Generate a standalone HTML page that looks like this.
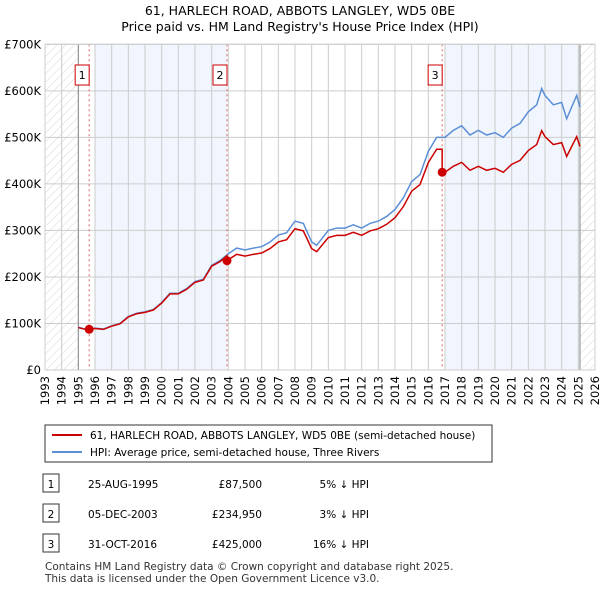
<!DOCTYPE html>
<html><head><meta charset="utf-8"><style>
body{margin:0;background:#fff;font-family:"Liberation Sans","DejaVu Sans",sans-serif;}
svg text{font-family:"DejaVu Sans","Liberation Sans",sans-serif;}
</style></head><body>
<svg id="c" width="600" height="590" xmlns="http://www.w3.org/2000/svg">
<defs><pattern id="hatch" width="6" height="6" patternUnits="userSpaceOnUse" patternTransform="rotate(45)"><line x1="0" y1="0" x2="0" y2="6" stroke="#ccc" stroke-width="0.8"/></pattern></defs>
<text x="300" y="15" text-anchor="middle" font-size="12.5">61, HARLECH ROAD, ABBOTS LANGLEY, WD5 0BE</text>
<text x="300" y="31" text-anchor="middle" font-size="12.5">Price paid vs. HM Land Registry's House Price Index (HPI)</text>
<g id="plot"></g>
<g>
<rect x="45" y="425" width="447" height="37" fill="#fff" stroke="#333" stroke-width="1"/>
<line x1="52" y1="435" x2="82" y2="435" stroke="#cc0000" stroke-width="2"/>
<text x="90" y="439" font-size="10.5">61, HARLECH ROAD, ABBOTS LANGLEY, WD5 0BE (semi-detached house)</text>
<line x1="52" y1="452" x2="82" y2="452" stroke="#5b8fd6" stroke-width="2"/>
<text x="90" y="456" font-size="10.5">HPI: Average price, semi-detached house, Three Rivers</text>
</g>
<g id="table" font-size="10.5"></g>
<text x="45" y="570" font-size="10.5" fill="#333">Contains HM Land Registry data © Crown copyright and database right 2025.</text>
<text x="45" y="582" font-size="10.5" fill="#333">This data is licensed under the Open Government Licence v3.0.</text>
</svg>
<script>
const hpiYears=[1995.0,1995.3,1995.6,1996,1996.5,1997,1997.5,1998,1998.5,1999,1999.5,2000,2000.5,2001,2001.5,2002,2002.5,2003,2003.5,2004,2004.5,2005,2005.5,2006,2006.5,2007,2007.5,2008,2008.5,2009,2009.3,2010,2010.5,2011,2011.5,2012,2012.5,2013,2013.5,2014,2014.5,2015,2015.5,2016,2016.5,2017,2017.5,2018,2018.5,2019,2019.5,2020,2020.5,2021,2021.5,2022,2022.5,2022.8,2023,2023.5,2024,2024.3,2024.9,2025.1];
const hpiValues=[92,89,88,90,88,95,100,115,122,125,130,145,165,165,175,190,195,225,235,250,262,258,262,265,275,290,295,320,315,275,268,300,305,305,312,305,315,320,330,345,370,405,420,470,500,500,515,525,505,515,505,510,500,520,530,555,570,605,590,570,575,540,590,565];
const saleDates=[1995.65,2003.92,2016.83];
const salePrices=[87.5,234.95,425];
const saleLabels=["25-AUG-1995","05-DEC-2003","31-OCT-2016"];
const salePriceText=["£87,500","£234,950","£425,000"];
const saleDiffText=["5% ↓ HPI","3% ↓ HPI","16% ↓ HPI"];
const yTicks=[0,100,200,300,400,500,600,700];
const yTickLabels=["£0","£100K","£200K","£300K","£400K","£500K","£600K","£700K"];
const NS="http://www.w3.org/2000/svg";
const X0=45,X1=595,Y0=370,Y1=44.3;
const x=t=>X0+(t-1993)*(X1-X0)/33;
const y=v=>Y0-v*(Y0-Y1)/700;
const plot=document.getElementById('plot');
function mk(tag,attrs,parent){const e=document.createElementNS(NS,tag);for(const k in attrs)e.setAttribute(k,attrs[k]);(parent||plot).appendChild(e);return e;}
function hpiAt(t){for(let i=1;i<hpiYears.length;i++){if(t<=hpiYears[i]){const f=(t-hpiYears[i-1])/(hpiYears[i]-hpiYears[i-1]);return hpiValues[i-1]+f*(hpiValues[i]-hpiValues[i-1]);}}return hpiValues[hpiValues.length-1];}
// shading
let r=mk('rect',{x:x(1996),y:Y1,width:x(saleDates[1])-x(1996),height:Y0-Y1,fill:'#eef3fc',opacity:0.8});

r=mk('rect',{x:x(2017),y:Y1,width:x(2025.1)-x(2017),height:Y0-Y1,fill:'#eef3fc',opacity:0.8});

r=mk('rect',{x:X0,y:Y1,width:x(1995)-X0,height:Y0-Y1,fill:'url(#hatch)'});

r=mk('rect',{x:x(2025.1),y:Y1,width:X1-x(2025.1),height:Y0-Y1,fill:'url(#hatch)'});

// grid
for(let yr=1993;yr<=2026;yr++){
 const l=mk('line',{x1:x(yr),x2:x(yr),y1:Y1,y2:Y0,stroke:'#ccc','stroke-width':1});
 
 const tx=x(yr)+4,ty=Y0+6;
 const t=mk('text',{x:tx,y:ty,'font-size':11.5,'text-anchor':'end',transform:`rotate(-90 ${tx} ${ty})`});
 t.textContent=yr;
}
yTicks.forEach((v,i)=>{
 const l=mk('line',{x1:X0,x2:X1,y1:y(v),y2:y(v),stroke:'#ccc','stroke-width':1});
 
 const t=mk('text',{x:X0-4,y:y(v)+4,'font-size':11.5,'text-anchor':'end'});
 t.textContent=yTickLabels[i];
});
let l=mk('line',{x1:x(1995),x2:x(1995),y1:Y1,y2:Y0,stroke:'#888','stroke-width':1});

l=mk('line',{x1:x(2025.1),x2:x(2025.1),y1:Y1,y2:Y0,stroke:'#888','stroke-width':1});

// sale vlines + labels
saleDates.forEach((d,i)=>{
 const v=mk('line',{x1:x(d),x2:x(d),y1:Y1,y2:Y0,stroke:'#e06060','stroke-width':1,'stroke-dasharray':'2,3'});
 
 const b=mk('rect',{x:x(d)-14,y:65,width:14,height:20,fill:'#fff',stroke:'#cc0000'});
 
 const t=mk('text',{x:x(d)-7,y:79,'font-size':11,'text-anchor':'middle'});
 t.textContent=i+1;
});
// HPI line
const hp=mk('polyline',{points:hpiYears.map((t,i)=>x(t)+','+y(hpiValues[i])).join(' '),fill:'none',stroke:'#5b8fd6','stroke-width':1.5});

// price line
const ratios=saleDates.map((d,i)=>salePrices[i]/hpiAt(d));
let pts=[];
hpiYears.forEach((t,i)=>{
 let k=0;for(let j=0;j<saleDates.length;j++)if(t>=saleDates[j])k=j;
 saleDates.forEach((d,j)=>{if(j>0&&hpiYears[i-1]<d&&t>=d){pts.push([d,hpiAt(d)*ratios[j-1]]);pts.push([d,salePrices[j]]);}});
 pts.push([t,hpiValues[i]*ratios[k]]);
});
const pp=mk('polyline',{points:pts.map(p=>x(p[0])+','+y(p[1])).join(' '),fill:'none',stroke:'#cc0000','stroke-width':1.5});

saleDates.forEach((d,i)=>{
 const c=mk('circle',{cx:x(d),cy:y(salePrices[i]),r:4.5,fill:'#cc0000'});
 
});
const fr=mk('rect',{x:X0,y:Y1,width:X1-X0,height:Y0-Y1,fill:'none',stroke:'#ccc'});

// table
const tb=document.getElementById('table');
saleDates.forEach((d,i)=>{
 const yy=484+i*30;
 const b=mk('rect',{x:43,y:yy-10,width:16,height:18,fill:'#fff',stroke:'#333'},tb);
 
 let t=mk('text',{x:51,y:yy+4,'text-anchor':'middle'},tb);t.textContent=i+1;
 
 t=mk('text',{x:88,y:yy+4},tb);t.textContent=saleLabels[i];
 
 t=mk('text',{x:262,y:yy+4,'text-anchor':'end'},tb);t.textContent=salePriceText[i];
 
 t=mk('text',{x:369,y:yy+4,'text-anchor':'end'},tb);t.textContent=saleDiffText[i];
 
});
</script>
</body></html>
